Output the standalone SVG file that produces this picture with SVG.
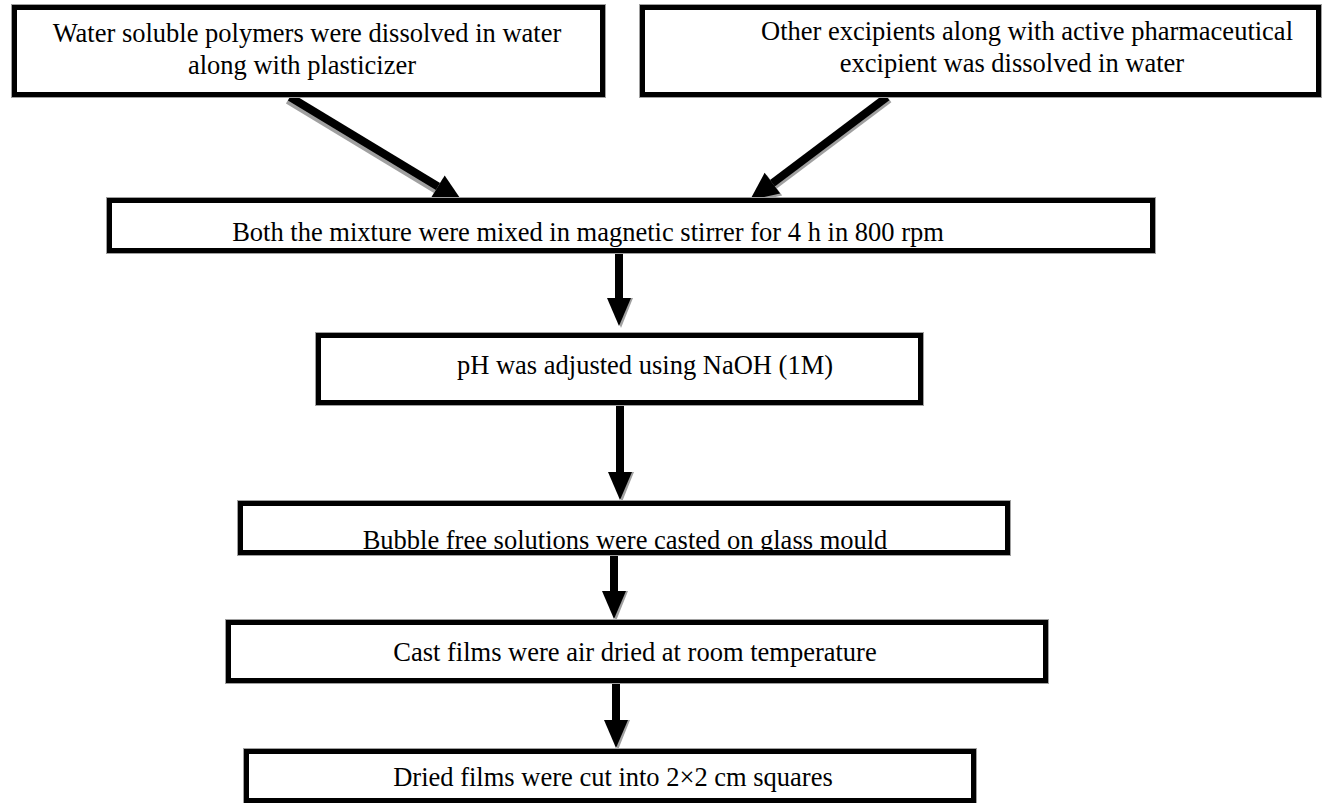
<svg xmlns="http://www.w3.org/2000/svg" width="1326" height="803" viewBox="0 0 1326 803">
<style>
.bx{fill:#fff;stroke:#000;stroke-width:5}
.bxs{fill:none;stroke:#a0a0a0;stroke-width:7}
.tl{font-family:"Liberation Serif","Times New Roman",serif;font-size:26.5px;fill:#000}
.sh{stroke:#000;stroke-width:8;fill:none}
.shg{stroke:#a0a0a0;stroke-width:8;fill:none}
.hd{fill:#000}
.hdg{fill:#a0a0a0}
</style>
<rect width="1326" height="803" fill="#fff"/>
<g id="connectors">
  <line class="shg" x1="288" y1="100" x2="436" y2="189.5"/>
  <polygon class="hdg" points="460,204 429.3,200.6 442.7,178.4"/>
  <line class="sh" x1="290" y1="97" x2="438" y2="186.5"/>
  <polygon class="hd" points="462,201 431.3,197.6 444.7,175.4"/>
  <line class="shg" x1="889" y1="99" x2="774.4" y2="185.2"/>
  <polygon class="hdg" points="752,202 782.2,195.6 766.6,174.8"/>
  <line class="sh" x1="887" y1="97" x2="772.4" y2="183.2"/>
  <polygon class="hd" points="750,200 780.2,193.6 764.6,172.8"/>
  <polygon class="hdg" points="609,298 633,298 621,328"/>
  <line class="sh" x1="619" y1="253" x2="619" y2="300"/>
  <polygon class="hd" points="607,298 631,298 619,326"/>
  <polygon class="hdg" points="610,472 634,472 622,502"/>
  <line class="sh" x1="620" y1="405" x2="620" y2="474"/>
  <polygon class="hd" points="608,472 632,472 620,500"/>
  <polygon class="hdg" points="604,591 628,591 616,621"/>
  <line class="sh" x1="614" y1="555" x2="614" y2="593"/>
  <polygon class="hd" points="602,591 626,591 614,619"/>
  <polygon class="hdg" points="606,720 630,720 618,750"/>
  <line class="sh" x1="616" y1="683" x2="616" y2="722"/>
  <polygon class="hd" points="604,720 628,720 616,748"/>
</g>
<g id="n1">
  <rect class="bxs" x="14.5" y="7.5" width="588" height="87"/>
  <rect class="bx" x="14.5" y="7.5" width="588" height="87"/>
  <text class="tl" x="307" y="42" text-anchor="middle">Water soluble polymers were dissolved in water</text>
  <text class="tl" x="302" y="74" text-anchor="middle">along with plasticizer</text>
</g>
<g id="n2">
  <rect class="bxs" x="642.5" y="7.5" width="676" height="87"/>
  <rect class="bx" x="642.5" y="7.5" width="676" height="87"/>
  <text class="tl" x="1027" y="40" text-anchor="middle">Other excipients along with active pharmaceutical</text>
  <text class="tl" x="1012" y="72" text-anchor="middle">excipient was dissolved in water</text>
</g>
<g id="n3">
  <rect class="bxs" x="109.5" y="200.5" width="1043" height="50"/>
  <rect class="bx" x="109.5" y="200.5" width="1043" height="50"/>
  <text class="tl" x="588" y="241" text-anchor="middle">Both the mixture were mixed in magnetic stirrer for 4 h in 800 rpm</text>
</g>
<g id="n4">
  <rect class="bxs" x="318.5" y="335.5" width="602" height="67"/>
  <rect class="bx" x="318.5" y="335.5" width="602" height="67"/>
  <text class="tl" x="645" y="374" text-anchor="middle">pH was adjusted using NaOH (1M)</text>
</g>
<g id="n5">
  <rect class="bxs" x="240.5" y="503.5" width="767" height="49"/>
  <rect class="bx" x="240.5" y="503.5" width="767" height="49"/>
  <text class="tl" x="625" y="549" text-anchor="middle">Bubble free solutions were casted on glass mould</text>
</g>
<g id="n6">
  <rect class="bxs" x="228.5" y="622.5" width="817" height="58"/>
  <rect class="bx" x="228.5" y="622.5" width="817" height="58"/>
  <text class="tl" x="635" y="661" text-anchor="middle">Cast films were air dried at room temperature</text>
</g>
<g id="n7">
  <rect class="bxs" x="246.5" y="751.5" width="727" height="49"/>
  <rect class="bx" x="246.5" y="751.5" width="727" height="49"/>
  <text class="tl" x="613" y="786" text-anchor="middle">Dried films were cut into 2×2 cm squares</text>
</g>
</svg>
